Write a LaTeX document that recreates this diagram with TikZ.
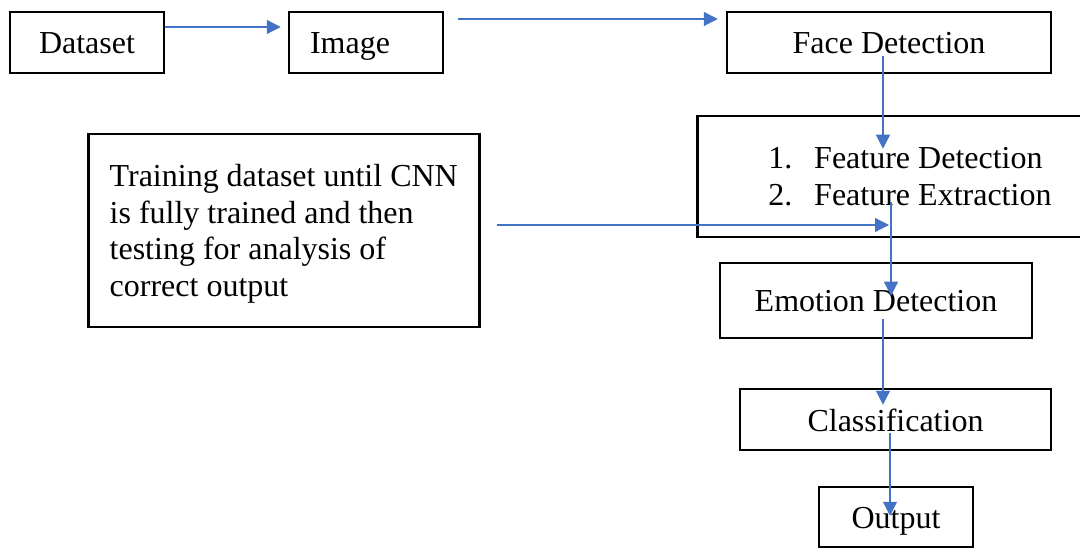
\documentclass[tikz,border=0pt]{standalone}
\usepackage{fontspec}
\setmainfont{Liberation Serif}
\usetikzlibrary{arrows.meta,calc}
\definecolor{arrblue}{RGB}{68,114,196}
\begin{document}
\begin{tikzpicture}[x=1pt,y=-1pt,
  box/.style={draw=black,line width=2.5pt,inner sep=0pt,font=\fontsize{32}{34}\selectfont},
  single/.style={box,text height=23pt,text depth=0pt},
  arr/.style={draw=arrblue,line width=1.2pt,-{Triangle[length=14pt,width=14pt]}}]
\useasboundingbox (0,0) rectangle (1080,548);
\fill[white] (0,0) rectangle (1080,548);
% nodes
\node[single,minimum width=154pt,minimum height=61pt] (dataset) at (87,42.5) {Dataset};
\node[single,text width=112pt,inner xsep=21pt,align=left,minimum height=61pt] (image) at (366,42.5) {Image};
\node[single,minimum width=324pt,minimum height=61pt] (face) at (889,42.5) {Face Detection};
\node[box,align=left,inner xsep=71pt,minimum height=121pt,font=\fontsize{32}{36.5}\selectfont,anchor=west] (feat) at (696,176.5)
  {\makebox[46pt][l]{1.}Feature Detection\\\makebox[46pt][l]{2.}Feature Extraction};
\node[box,align=left,inner xsep=19pt,minimum height=193pt,minimum width=391pt,anchor=west,font=\fontsize{32}{36.5}\selectfont] (train) at (87,230.5)
  {Training dataset until CNN\\is fully trained and then\\testing for analysis of\\\raisebox{0pt}[\height][0pt]{correct output}};
\node[single,minimum width=312pt,minimum height=75pt] (emotion) at (876,300.5) {Emotion Detection};
\node[single,minimum width=311pt,minimum height=61pt] (class) at (895.5,419.5) {Classification};
\node[single,minimum width=154pt,minimum height=60pt] (output) at (896,517) {Output};
% connectors
\draw[arr] ([yshift=15.5pt]dataset.east) -- ([yshift=15.5pt,xshift=-7pt]image.west);
\draw[arr] ([yshift=23.5pt,xshift=14pt]image.east) -- ([yshift=23.5pt,xshift=-8pt]face.west);
\coordinate (a3s) at ([xshift=-6pt,yshift=-13.5pt]face.center);
\draw[arr] (a3s) -- ($(a3s |- feat.north)+(0,34)$);
\coordinate (a4s) at ([xshift=16pt,yshift=5.5pt]train.east);
\draw[arr] (a4s) -- ($(a4s -| feat.west)+(193,0)$);
\coordinate (a5s) at ($(feat.west)+(195,25.5)$);
\draw[arr] (a5s) -- ($(a5s |- emotion.north)+(0,34)$);
\coordinate (a6s) at ($(emotion.center)+(7,18.5)$);
\draw[arr] (a6s) -- ($(a6s |- class.north)+(0,17)$);
\coordinate (a7s) at ($(class.center)+(-5.5,13.5)$);
\draw[arr] (a7s) -- ($(a7s |- output.north)+(0,30)$);
\end{tikzpicture}
\end{document}
